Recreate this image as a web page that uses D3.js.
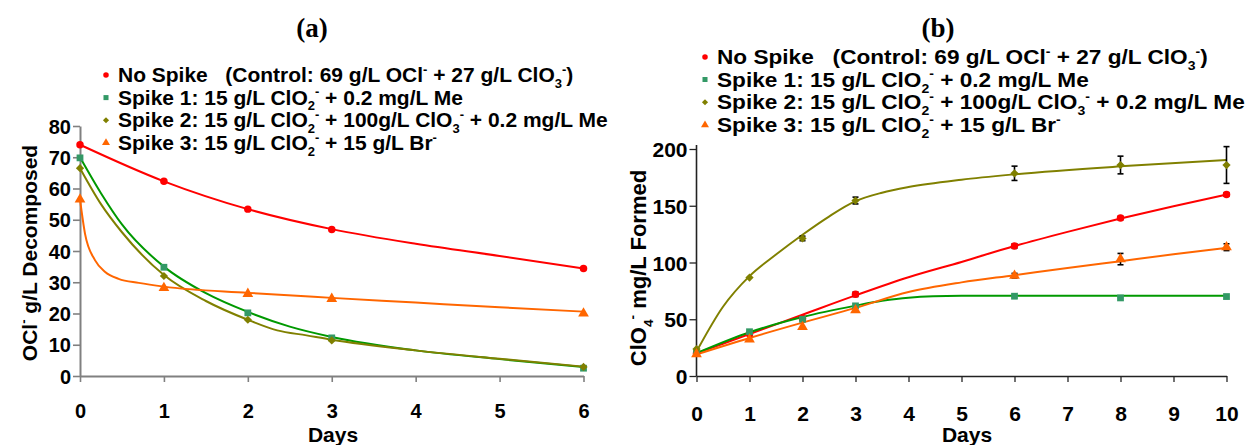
<!DOCTYPE html>
<html><head><meta charset="utf-8">
<script src="https://cdn.jsdelivr.net/npm/d3@7"></script>
<style>
html,body{margin:0;padding:0;background:#fff;overflow:hidden;}
svg text{font-family:"Liberation Sans",Arial,sans-serif;font-weight:bold;white-space:pre;fill:#000;}
</style></head><body>
<svg id="c" width="1250" height="445"></svg>
<script>
// ---------- data ----------
const legendLabels = [
  "No Spike   (Control: 69 g/L OCl^{-} + 27 g/L ClO_{3}^{-})",
  "Spike 1: 15 g/L ClO_{2}^{-} + 0.2 mg/L Me",
  "Spike 2: 15 g/L ClO_{2}^{-} + 100g/L ClO_{3}^{-} + 0.2 mg/L Me",
  "Spike 3: 15 g/L ClO_{2}^{-} + 15 g/L Br^{-}"
];
const markerColors = ["#ff0000", "#339966", "#808000", "#ff6600"];
const lineColors   = ["#ff0000", "#009900", "#808000", "#ff6600"];

// Panel (a): OCl- decomposed
const daysA = [0, 1, 2, 3, 6];
const xTicksA = [0, 1, 2, 3, 4, 5, 6];
const yTicksA = [0, 10, 20, 30, 40, 50, 60, 70, 80];
const noSpikeA = [74, 62.3, 53.4, 46.9, 34.4];
const spike1A  = [69.8, 34.8, 20.2, 12.2, 2.5];
const spike2A  = [66.5, 32, 18, 11.4, 2.9];
const spike3A  = [56.5, 28.2, 26.3, 24.7, 20];
// fitted curves (day, value)
const fitNoSpikeA = [[0,74],[1,62.3],[2,53.4],[3,47],[4,42.3],[5,38.4],[6,34.4]];
const fitSpike1A  = [[0,70],[0.25,58.5],[0.5,48.5],[1,35],[1.5,26.5],[2,20.5],[2.5,15.8],[3,12.5],[4,8.2],[5,5.4],[6,2.9]];
const fitSpike2A  = [[0,66.5],[0.25,55],[0.5,46],[1,32.3],[1.5,24],[2,18],[2.35,14.6],[2.7,13],[3,11.6],[4,8.2],[5,5.5],[6,3]];
const fitSpike3A  = [[0,56.5],[0.06,45.5],[0.18,37],[0.3,33.3],[0.46,31.1],[0.7,29.8],[1,28.6],[2,26.6],[3,25],[4,23.5],[5,22],[6,20.6]];

// Panel (b): ClO4- formed
const daysB = [0, 1, 2, 3, 6, 8, 10];
const xTicksB = [0, 1, 2, 3, 4, 5, 6, 7, 8, 9, 10];
const yTicksB = [0, 50, 100, 150, 200];
const noSpikeB = [20, 37, 50.7, 72, 114.5, 139.2, 160];
const spike1B  = [20.5, 39, 50, 61.8, 70.3, 68.8, 70];
const spike2B  = [23.7, 86.7, 121.2, 154.6, 178.6, 185.9, 185.9];
const spike3B  = [19.3, 32.2, 43.3, 58, 88.4, 103, 113.5];
const errNoSpikeB = [0, 0, 0, 2, 2, 1.5, 1.5];
const errSpike1B  = [0, 0, 0, 0, 0, 0, 0];
const errSpike2B  = [0, 0, 2, 3, 6.3, 7.8, 16.2];
const errSpike3B  = [0, 0, 0, 0, 2, 5, 3];
const fitNoSpikeB = [[0,20],[1,37],[2,54],[3,71],[4,87],[5,100.5],[6,114.5],[7,127],[8,138.7],[9,149.5],[10,159.8]];
const fitSpike1B  = [[0,20],[1,38.5],[2,52],[3,62],[3.5,66.3],[4,69],[5,70.6],[6,70.8],[8,70.8],[10,70.8]];
const fitSpike2B  = [[0,21.5],[0.5,61],[1,88],[1.5,107],[2,124.5],[2.5,140.5],[3,154],[3.5,161.5],[4,166.5],[5,173],[6,177.7],[8,184.7],[10,190.3]];
const fitSpike3B  = [[0,19],[1,33.5],[2,47],[3,60],[4,74],[5,82.5],[6,88.8],[7,95.2],[8,101.2],[9,107.2],[10,113]];

// ---------- helpers ----------
const svg = d3.select("#c");
function rich(sel, str, fs) {
  const parts = str.split(/(_\{[^}]*\}|\^\{[^}]*\})/).filter(s => s.length);
  let shift = 0;
  parts.forEach(p => {
    let t = p, target = 0, size = fs;
    if (p.startsWith("_{")) { t = p.slice(2, -1); target = 0.3 * fs; size = 0.62 * fs; }
    else if (p.startsWith("^{")) { t = p.slice(2, -1); target = -0.42 * fs; size = 0.62 * fs; }
    sel.append("tspan").attr("dy", target - shift).attr("font-size", size).text(t);
    shift = target;
  });
}
const symTypes = [d3.symbolCircle, d3.symbolSquare, d3.symbolSquare, d3.symbolTriangle];
const symRot = [0, 0, 45, 0];
function marker(g, i, x, y, scale) {
  const sizes = [44, 46, 34, 50];
  g.append("path")
    .attr("d", d3.symbol().type(symTypes[i]).size(sizes[i] * scale)())
    .attr("transform", `translate(${x},${y}) rotate(${symRot[i]})`)
    .attr("fill", markerColors[i]);
}

function panel(cfg) {
  const g = svg.append("g");
  const x = d3.scaleLinear().domain(cfg.xDomain).range(cfg.xRange);
  const y = d3.scaleLinear().domain(cfg.yDomain).range(cfg.yRange);

  // axes
  const ax = g.append("g").attr("transform", `translate(0,${cfg.yRange[0]})`)
    .call(d3.axisBottom(x).tickValues(cfg.xTicks).tickFormat(d3.format("d")).tickSize(6).tickSizeOuter(0).tickPadding(cfg.xPad));
  const ay = g.append("g").attr("transform", `translate(${cfg.xRange[0]},0)`)
    .call(d3.axisLeft(y).tickValues(cfg.yTicks).tickFormat(d3.format("d")).tickSize(7).tickSizeOuter(0).tickPadding(cfg.yPad));
  [ax, ay].forEach(a => {
    a.select(".domain").attr("stroke", cfg.axisColor).attr("stroke-width", cfg.axisW);
    a.selectAll(".tick line").attr("stroke", cfg.axisColor).attr("stroke-width", cfg.axisW * 0.8);
    a.selectAll(".tick text").attr("font-size", cfg.tickFs).attr("font-family", '"Liberation Sans",Arial,sans-serif').attr("font-weight", "bold").attr("fill", "#000");
  });
  ay.selectAll(".tick text").attr("dy", "0.36em");
  if (cfg.yTop) ay.select(".domain").attr("d", `M0,${cfg.yTop}V${cfg.yRange[0]}`);

  // fitted lines
  const line = d3.line().x(d => x(d[0])).y(d => y(d[1])).curve(d3.curveMonotoneX);
  cfg.fits.forEach((f, i) => {
    g.append("path").datum(f).attr("d", line).attr("fill", "none")
      .attr("stroke", lineColors[i]).attr("stroke-width", 2);
  });
  // error bars
  if (cfg.errs) {
    cfg.series.forEach((s, i) => {
      s.forEach((v, j) => {
        const e = cfg.errs[i][j];
        if (!e) return;
        const xx = x(cfg.days[j]);
        const eg = g.append("g").attr("stroke", "#000").attr("stroke-width", 1.6);
        eg.append("line").attr("x1", xx).attr("x2", xx).attr("y1", y(v - e)).attr("y2", y(v + e));
        eg.append("line").attr("x1", xx - 3).attr("x2", xx + 3).attr("y1", y(v - e)).attr("y2", y(v - e));
        eg.append("line").attr("x1", xx - 3).attr("x2", xx + 3).attr("y1", y(v + e)).attr("y2", y(v + e));
      });
    });
  }
  // markers
  cfg.series.forEach((s, i) => {
    s.forEach((v, j) => marker(g, i, x(cfg.days[j]), y(v), 1));
  });

  // title
  g.append("text").attr("x", cfg.titleX).attr("y", 37).attr("text-anchor", "middle")
    .style("font-family", '"Liberation Serif","Times New Roman",serif').attr("font-size", 27).text(cfg.title);

  // legend (text stretched horizontally to the reference extent)
  const lt = g.append("g");
  const texts = [];
  cfg.legendRows.forEach((ry, i) => {
    marker(g, i, cfg.legendX - 12, ry, 0.55);
    const t = lt.append("text").attr("x", 0).attr("y", ry + cfg.legendFs * 0.36).attr("font-size", cfg.legendFs);
    rich(t, legendLabels[i], cfg.legendFs);
    texts.push(t);
  });
  const maxW = d3.max(texts, t => t.node().getComputedTextLength());
  const sx = cfg.legendW / maxW;
  lt.attr("transform", `translate(${cfg.legendX},0) scale(${sx},1)`);

  // axis titles
  const yt = g.append("text").attr("text-anchor", "middle").attr("font-size", cfg.yTitleFs)
    .attr("transform", `translate(${cfg.yTitleX},${cfg.yTitleY}) rotate(-90)`);
  rich(yt, cfg.yTitle, cfg.yTitleFs);
  g.append("text").attr("x", cfg.xTitleX).attr("y", 442).attr("text-anchor", "middle")
    .attr("font-size", 21).text("Days");
}

panel({
  xDomain: [0, 6], xRange: [80, 583.5], yDomain: [0, 80], yRange: [376, 126],
  xTicks: xTicksA, yTicks: yTicksA, xPad: 22, yPad: 2, tickFs: 20,
  axisColor: "#808080", axisW: 2,
  days: daysA, series: [noSpikeA, spike1A, spike2A, spike3A],
  fits: [fitNoSpikeA, fitSpike1A, fitSpike2A, fitSpike3A],
  title: "(a)", titleX: 312,
  legendX: 118, legendW: 490, legendRows: [75, 97.6, 120.2, 142.8], legendFs: 19.5,
  yTitle: "OCl^{-} g/L Decomposed", yTitleX: 37, yTitleY: 253, yTitleFs: 21,
  xTitleX: 333
});
panel({
  xDomain: [0, 10], xRange: [696.5, 1226.5], yDomain: [0, 200], yRange: [376, 149],
  xTicks: xTicksB, yTicks: yTicksB, xPad: 24, yPad: 2, tickFs: 21, yTop: 145,
  axisColor: "#222", axisW: 1.6,
  days: daysB, series: [noSpikeB, spike1B, spike2B, spike3B],
  errs: [errNoSpikeB, errSpike1B, errSpike2B, errSpike3B],
  fits: [fitNoSpikeB, fitSpike1B, fitSpike2B, fitSpike3B],
  title: "(b)", titleX: 938,
  legendX: 717, legendW: 528, legendRows: [57, 79.5, 102.3, 125], legendFs: 20,
  yTitle: "ClO_{4}^{-} mg/L Formed", yTitleX: 646, yTitleY: 268, yTitleFs: 22,
  xTitleX: 967
});
</script>
</body></html>
